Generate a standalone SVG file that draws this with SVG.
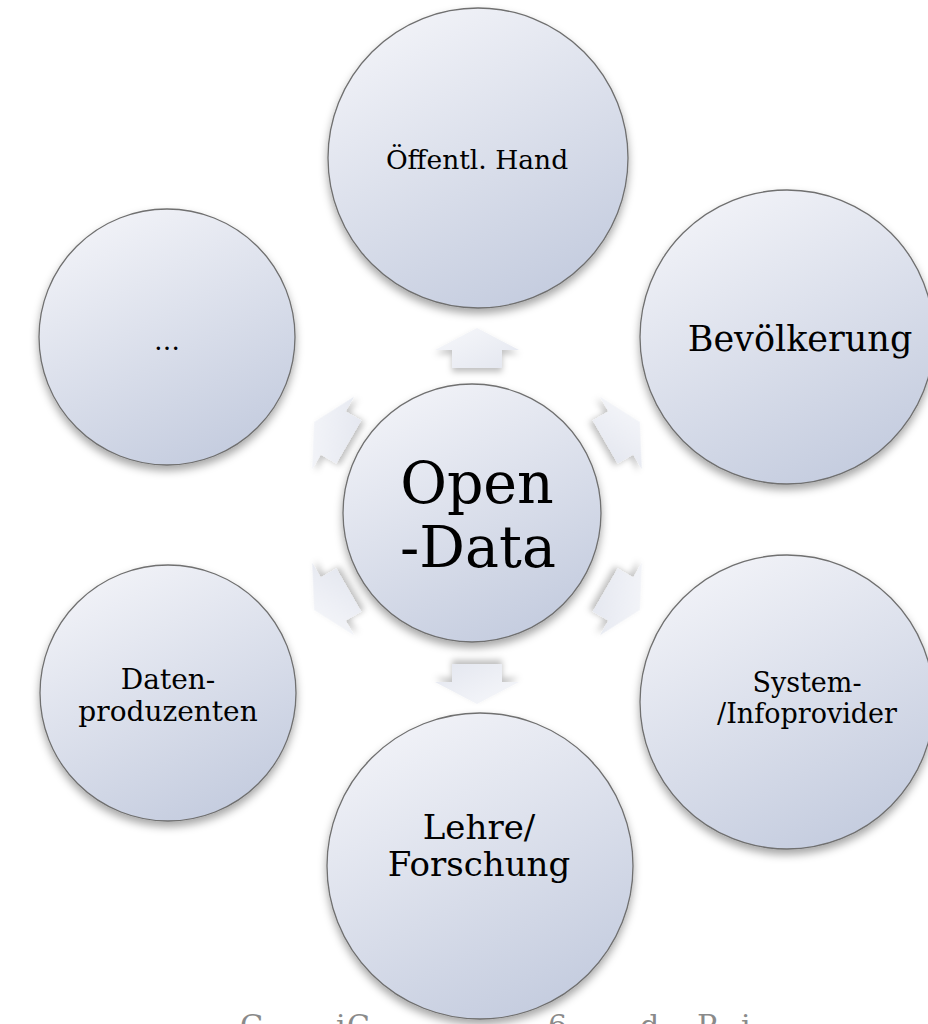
<svg xmlns="http://www.w3.org/2000/svg" width="928" height="1024" viewBox="0 0 928 1024">
<defs>
<linearGradient id="cg" x1="0.25" y1="0" x2="0.75" y2="1">
<stop offset="0" stop-color="#f2f3f8"/>
<stop offset="1" stop-color="#c3cbde"/>
</linearGradient>
<linearGradient id="ag" x1="0" y1="0" x2="1" y2="1">
<stop offset="0" stop-color="#f7f8fb"/>
<stop offset="1" stop-color="#e3e6ef"/>
</linearGradient>
<filter id="sh" x="-20%" y="-20%" width="140%" height="150%">
<feDropShadow dx="0" dy="5" stdDeviation="4" flood-color="#000" flood-opacity="0.35"/>
</filter>
<filter id="ash" x="-40%" y="-40%" width="180%" height="180%">
<feDropShadow dx="0" dy="4" stdDeviation="3" flood-color="#000" flood-opacity="0.25"/>
</filter>
<path id="arrow" d="M0,-188 L42,-166 L25,-166 L25,-148 L-25,-148 L-25,-166 L-42,-166 Z"/>
</defs>
<style>
.c{fill:url(#cg);stroke:#6f6f6f;stroke-width:1.3;filter:url(#sh)}
.a{fill:url(#ag);filter:url(#ash)}
.t{font-family:"DejaVu Serif","Liberation Serif",serif;fill:#000;text-anchor:middle}
.cap{font-family:"DejaVu Serif","Liberation Serif",serif;fill:#8a8a8a;font-size:30px}
</style>
<rect width="928" height="1024" fill="#fff"/>
<g id="connectors">
<use href="#arrow" class="a" transform="translate(477,516)"/>
<use href="#arrow" class="a" transform="translate(477,516) rotate(60)"/>
<use href="#arrow" class="a" transform="translate(477,516) rotate(120)"/>
<use href="#arrow" class="a" transform="translate(477,516) rotate(180)"/>
<use href="#arrow" class="a" transform="translate(477,516) rotate(240)"/>
<use href="#arrow" class="a" transform="translate(477,516) rotate(300)"/>
</g>
<g id="node-center">
<circle class="c" cx="472" cy="513" r="129"/>
<text class="t" x="477" y="503" font-size="57">Open</text>
<text class="t" x="478" y="567" font-size="57">-Data</text>
</g>
<g id="node-top">
<circle class="c" cx="478" cy="158" r="150"/>
<text class="t" x="477" y="169" font-size="26.5">Öffentl. Hand</text>
</g>
<g id="node-upper-right">
<circle class="c" cx="787" cy="337" r="147"/>
<text class="t" x="800" y="351" font-size="35">Bevölkerung</text>
</g>
<g id="node-lower-right">
<circle class="c" cx="787" cy="702" r="147"/>
<text class="t" x="807" y="692" font-size="27">System-</text>
<text class="t" x="807" y="723" font-size="27">/Infoprovider</text>
</g>
<g id="node-bottom">
<circle class="c" cx="480" cy="866" r="153"/>
<text class="t" x="479" y="839" font-size="34">Lehre/</text>
<text class="t" x="479" y="876" font-size="34">Forschung</text>
</g>
<g id="node-lower-left">
<circle class="c" cx="168" cy="693" r="128"/>
<text class="t" x="168" y="689" font-size="28">Daten-</text>
<text class="t" x="168" y="721" font-size="28">produzenten</text>
</g>
<g id="node-upper-left">
<circle class="c" cx="167" cy="337" r="128"/>
<text class="t" x="167" y="350" font-size="26">…</text>
</g>
<text class="cap" y="1036"><tspan x="240">G</tspan><tspan x="336">i</tspan><tspan x="347">C</tspan><tspan x="548">6</tspan><tspan x="640">d</tspan><tspan x="697">P</tspan><tspan x="741">i</tspan></text>
</svg>
